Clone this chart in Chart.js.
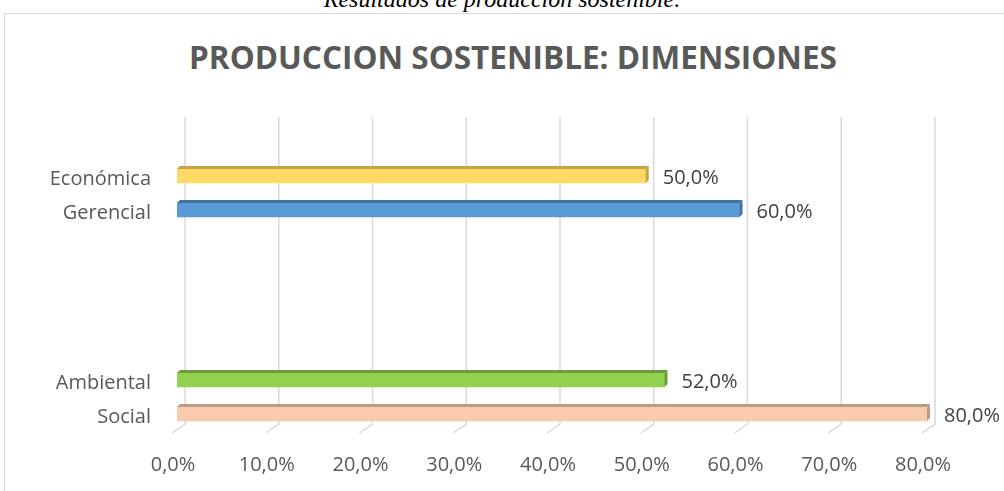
<!DOCTYPE html>
<html>
<head>
<meta charset="utf-8">
<script src="https://cdn.jsdelivr.net/npm/chart.js@4.4.1/dist/chart.umd.min.js"></script>
<style>
  html, body { margin: 0; padding: 0; background: #fff; overflow: hidden; }
  #caption {
    position: absolute; left: 0; width: 1004px; top: -13px;
    text-align: center; font: italic 24px/24px "Liberation Serif", serif; color: #000;
  }
  #marco {
    position: absolute; left: 4px; top: 13px; width: 1100px; height: 600px;
    border: 1px solid #d9d9d9; box-sizing: border-box;
  }
  #titulo {
    position: absolute; left: 13px; width: 1000px; top: 37px;
    text-align: center; font: bold 31.5px/40px "Open Sans", sans-serif; color: #595959;
  }
  #wrap { position: absolute; left: 0; top: 0; width: 1004px; height: 491px; }
</style>
</head>
<body>
<div id="caption">Resultados de producción sostenible.</div>
<div id="marco"></div>
<div id="titulo"></div>
<div id="wrap"><canvas id="grafico"></canvas></div>
<script>
// datos (filas vacias = hueco entre los dos grupos)
const categorias = ["Económica", "Gerencial", "", "", "", "", "Ambiental", "Social"];
const valores = [50, 60, null, null, null, null, 52, 80];
const colores = ["#FFD966", "#5B9BD5", null, null, null, null, "#92D050", "#F8CBAD"];
const coloresSombra = ["#C4A443", "#41719C", null, null, null, null, "#6B9B3A", "#BE9B85"];
const tituloGrafico = "PRODUCCION SOSTENIBLE: DIMENSIONES";

document.getElementById("titulo").textContent = tituloGrafico;

const fmt = (v) => v.toFixed(1).replace(".", ",") + "%";

// rejilla de fondo y caras 3D de las barras
const efecto3D = {
  id: "efecto3D",
  beforeDatasetsDraw(chart) {
    const ctx = chart.ctx;
    const xs = chart.scales.x;
    ctx.save();
    ctx.strokeStyle = "#d9d9d9";
    ctx.lineWidth = 1.5;
    xs.ticks.forEach((t) => {
      const x = xs.getPixelForValue(t.value) + 8;
      ctx.beginPath();
      ctx.moveTo(x, 117);
      ctx.lineTo(x, 424);
      ctx.lineTo(x - 13, 433);
      ctx.stroke();
    });
    ctx.restore();
  },
  afterDatasetsDraw(chart) {
    const ctx = chart.ctx;
    const meta = chart.getDatasetMeta(0);
    ctx.save();
    meta.data.forEach((bar, i) => {
      if (valores[i] == null) return;
      const h = bar.height;
      const top = bar.y - h / 2;
      const bottom = bar.y + h / 2;
      const d = 3;
      ctx.fillStyle = coloresSombra[i];
      ctx.beginPath();
      ctx.moveTo(bar.base, top);
      ctx.lineTo(bar.base + d, top - d);
      ctx.lineTo(bar.x + d, top - d);
      ctx.lineTo(bar.x, top);
      ctx.closePath();
      ctx.fill();
      ctx.beginPath();
      ctx.moveTo(bar.x, top);
      ctx.lineTo(bar.x + d, top - d);
      ctx.lineTo(bar.x + d, bottom - d);
      ctx.lineTo(bar.x, bottom);
      ctx.closePath();
      ctx.fill();

      ctx.fillStyle = "#404040";
      ctx.font = '20px "Open Sans"';
      ctx.textBaseline = "middle";
      ctx.textAlign = "left";
      ctx.fillText(fmt(valores[i]), bar.x + 17, bar.y + 2);
    });
    ctx.restore();
  },
};

new Chart(document.getElementById("grafico"), {
  type: "bar",
  data: {
    labels: categorias,
    datasets: [
      {
        data: valores,
        backgroundColor: colores,
        borderWidth: 0,
        barThickness: 14,
      },
    ],
  },
  options: {
    indexAxis: "y",
    responsive: true,
    maintainAspectRatio: false,
    animation: false,
    layout: { padding: { left: 0, right: 77, top: 159, bottom: 0 } },
    scales: {
      x: {
        min: 0,
        max: 80,
        ticks: {
          stepSize: 10,
          callback: (v) => fmt(v),
          font: { family: "Open Sans", size: 20 },
          color: "#595959",
          padding: 22,
          labelOffset: -4,
          maxRotation: 0,
        },
        grid: { display: false, drawTicks: false },
        border: { display: false },
        afterFit(scale) { scale.height = 60; },
      },
      y: {
        offset: true,
        ticks: {
          font: { family: "Open Sans", size: 20 },
          color: "#595959",
          padding: 26,
          labelOffset: 3,
          autoSkip: false,
        },
        grid: { display: false, drawTicks: false },
        border: { display: false },
        afterFit(scale) { scale.width = 177; },
      },
    },
    plugins: {
      legend: { display: false },
      tooltip: { enabled: false },
      title: { display: false },
    },
  },
  plugins: [efecto3D],
});
</script>
</body>
</html>
